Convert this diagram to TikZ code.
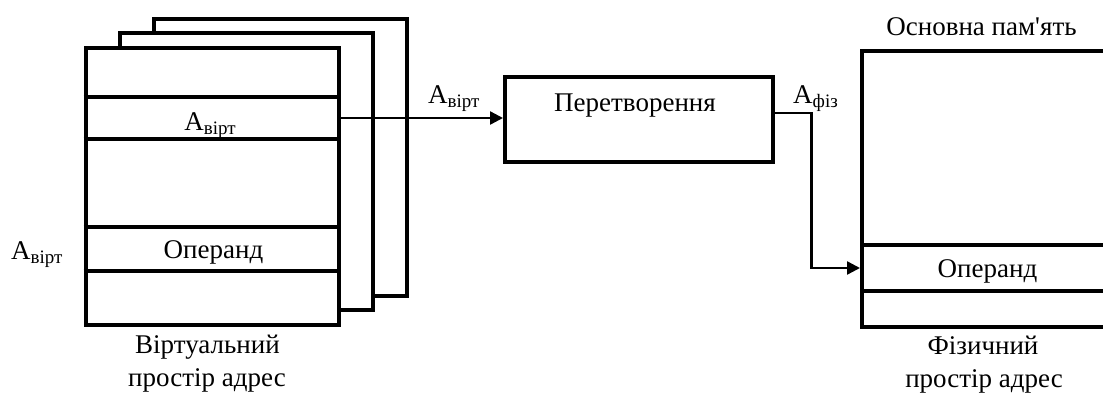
\documentclass[tikz,border=0pt]{standalone}
\usepackage{fontspec}
\setmainfont{Liberation Serif}[Ligatures=TeXOff]
\usetikzlibrary{arrows.meta}
\newcommand\Asb[1]{A\raisebox{-4pt}{\fontsize{19}{20}\selectfont #1}}
\tikzset{
  page/.style={draw, line width=4pt, fill=white, inner sep=0pt, anchor=north west},
  rowline/.style={line width=4pt},
  conn/.style={line width=2.4pt},
  arr/.style={conn, -{Triangle[length=13pt,width=13pt]}},
  lbl/.style={inner sep=0pt, anchor=base, font=\fontsize{27}{30}\selectfont},
  lblw/.style={inner sep=0pt, anchor=base west, font=\fontsize{27}{30}\selectfont}
}
\begin{document}
\begin{tikzpicture}[x=1pt,y=-1pt]
\useasboundingbox (0,0) rectangle (1103,394);
\clip (0,0) rectangle (1103,394);
% back pages
\node[page, minimum width=253pt, minimum height=277pt] (p3) at (152,17) {};
\node[page, minimum width=253pt, minimum height=277pt] (p2) at (118,31) {};
\node[page, minimum width=253pt, minimum height=277pt] (front) at (83.7,46.3) {};
\draw[rowline] (front.west |- 0,97) -- (front.east |- 0,97);
\draw[rowline] (front.west |- 0,139) -- (front.east |- 0,139);
\draw[rowline] (front.west |- 0,227) -- (front.east |- 0,227);
\draw[rowline] (front.west |- 0,271) -- (front.east |- 0,271);
\node[lbl] (av1) at (210,130) {\Asb{вірт}};
\node[lbl] (op1) at (213.5,258) {Операнд};
\node[lblw] (av2) at (11,259) {\Asb{вірт}};
\node[lbl] (vt1) at (207.5,353) {Віртуальний};
\node[lbl] (vt2) at (207,386) {простір адрес};
% transform box
\node[page, minimum width=268pt, minimum height=85pt] (trans) at (503,74.7) {};
\node[lbl] (trtxt) at (635,111) {Перетворення};
\node[lblw] (av3) at (428,103) {\Asb{вірт}};
\node[lblw] (af) at (793,103) {\Asb{фіз}};
% main memory
\node[page, minimum width=260pt, minimum height=276pt] (mem) at (860,48.7) {};
\draw[rowline] (mem.west |- 0,245) -- (mem.east |- 0,245);
\draw[rowline] (mem.west |- 0,291) -- (mem.east |- 0,291);
\node[lbl] (memt) at (981.5,35) {Основна пам'ять};
\node[lbl] (op2) at (987.5,277) {Операнд};
\node[lbl] (ph1) at (983,354) {Фізичний};
\node[lbl] (ph2) at (984,387) {простір адрес};
% connectors
\draw[arr] (front.east |- 0,118) -- (trans.west |- 0,118);
\coordinate (bend1) at (811.5,113);
\coordinate (bend2) at (811.5,268);
\draw[arr] (trans.east |- bend1) -- (bend1) -- (bend2) -- (mem.west |- bend2);
\end{tikzpicture}
\end{document}
